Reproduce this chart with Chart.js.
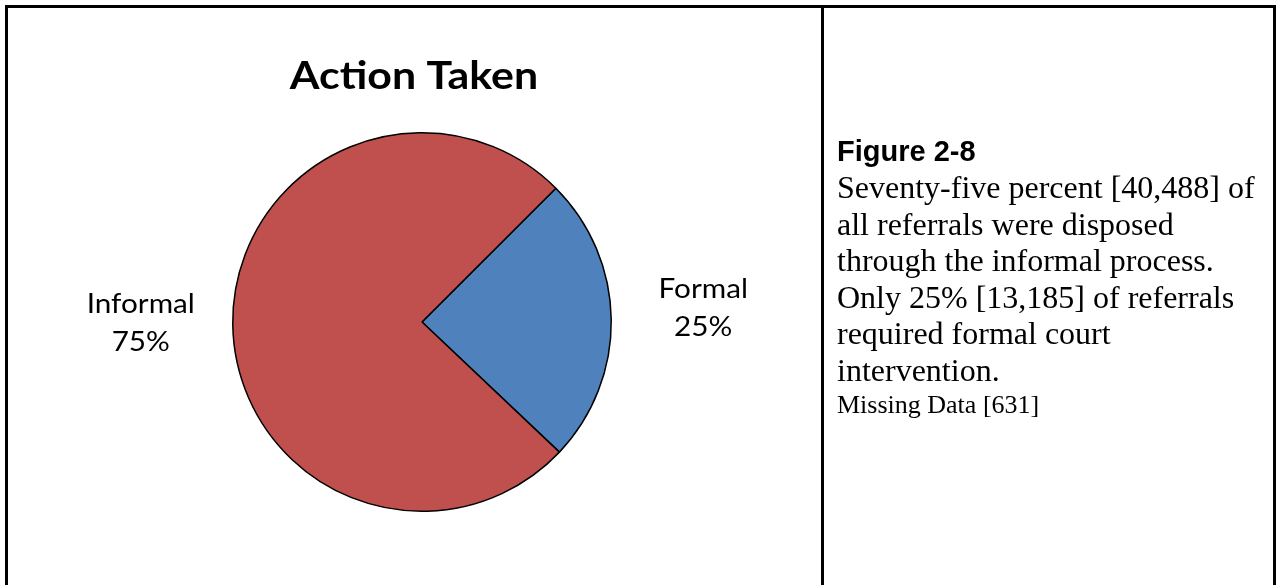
<!DOCTYPE html>
<html>
<head>
<meta charset="utf-8">
<script src="https://cdn.jsdelivr.net/npm/chart.js@4.4.1/dist/chart.umd.min.js"></script>
<style>
  html, body { margin: 0; padding: 0; background: #fff; }
  body { width: 1276px; height: 585px; position: relative; overflow: hidden; }
  #frame {
    position: absolute; left: 5px; top: 5px; width: 1265px; height: 640px;
    border: 3px solid #000; border-bottom: none;
  }
  #divider { position: absolute; left: 821px; top: 5px; width: 3px; height: 600px; background: #000; }
  #chartBox { position: absolute; left: 0; top: 0; width: 822px; height: 585px; }
  #note { position: absolute; left: 837px; top: 0; color: #000; }
  #note > div { position: absolute; left: 0; white-space: nowrap; }
  #note .head { top: 137px;
    font: bold 29px 'Liberation Sans', Arial, sans-serif; line-height: 29px; }
  #note .body { top: 169px;
    font: 32px 'Liberation Serif', 'Times New Roman', serif; line-height: 36.5px; }
  #note .foot { top: 388px;
    font: 26px 'Liberation Serif', 'Times New Roman', serif; line-height: 34px; }
</style>
</head>
<body>
<div id="chartBox"><canvas id="pie"></canvas></div>
<div id="frame"></div>
<div id="divider"></div>
<div id="note">
  <div class="head">Figure 2-8</div>
  <div class="body">Seventy-five percent [40,488] of<br>all referrals were disposed<br>through the informal process.<br>Only 25% [13,185] of referrals<br>required formal court<br>intervention.</div>
  <div class="foot">Missing Data [631]</div>
</div>
<script>
// Action Taken - pie of referral dispositions

const categories = ['Formal', 'Informal'];
const referrals = [13185, 40488];
const sliceColors = ['#4F81BD', '#C0504D'];
const chartTitle = 'Action Taken';

const LABEL_FONT = "27px Lato, 'Open Sans', sans-serif";
const TITLE_FONT = "bold 39px Lato, 'Open Sans', sans-serif";
const labelNudgeY = [-20, -13]; // small vertical tweak per outside label

// draw text centred at x, stretched a bit wider (Calibri-ish look)
function wideText(ctx, text, x, y, sx) {
  ctx.save();
  ctx.translate(x, y);
  ctx.scale(sx, 1);
  ctx.fillText(text, 0, 0);
  ctx.restore();
}

// draws the title and the outside "name / percent" labels
const outsideLabels = {
  id: 'outsideLabels',
  afterDraw(chart) {
    const ctx = chart.ctx;
    const meta = chart.getDatasetMeta(0);
    const total = referrals.reduce((a, b) => a + b, 0);
    ctx.save();
    ctx.fillStyle = '#000';
    ctx.textAlign = 'center';
    ctx.textBaseline = 'alphabetic';

    ctx.font = TITLE_FONT;
    wideText(ctx, chartTitle, 414, 89, 1.1);

    ctx.font = LABEL_FONT;
    meta.data.forEach((arc, i) => {
      const mid = (arc.startAngle + arc.endAngle) / 2;
      const dist = arc.outerRadius + 92;
      const x = arc.x + Math.cos(mid) * dist;
      const y = arc.y + Math.sin(mid) * dist + labelNudgeY[i];
      const pct = Math.round(referrals[i] / total * 100) + '%';
      wideText(ctx, categories[i], x, y, 1.1);
      wideText(ctx, pct, x, y + 38, 1.1);
    });
    ctx.restore();
  }
};

new Chart(document.getElementById('pie'), {
  type: 'pie',
  data: {
    labels: categories,
    datasets: [{
      data: referrals,
      backgroundColor: sliceColors,
      borderColor: '#000',
      borderWidth: 1.5
    }]
  },
  options: {
    responsive: true,
    maintainAspectRatio: false,
    animation: false,
    rotation: 45,
    layout: { padding: { left: 232, top: 131, right: 210, bottom: 72 } },
    plugins: {
      legend: { display: false },
      tooltip: { enabled: false },
      title: { display: false }
    }
  },
  plugins: [outsideLabels]
});
</script>
</body>
</html>
